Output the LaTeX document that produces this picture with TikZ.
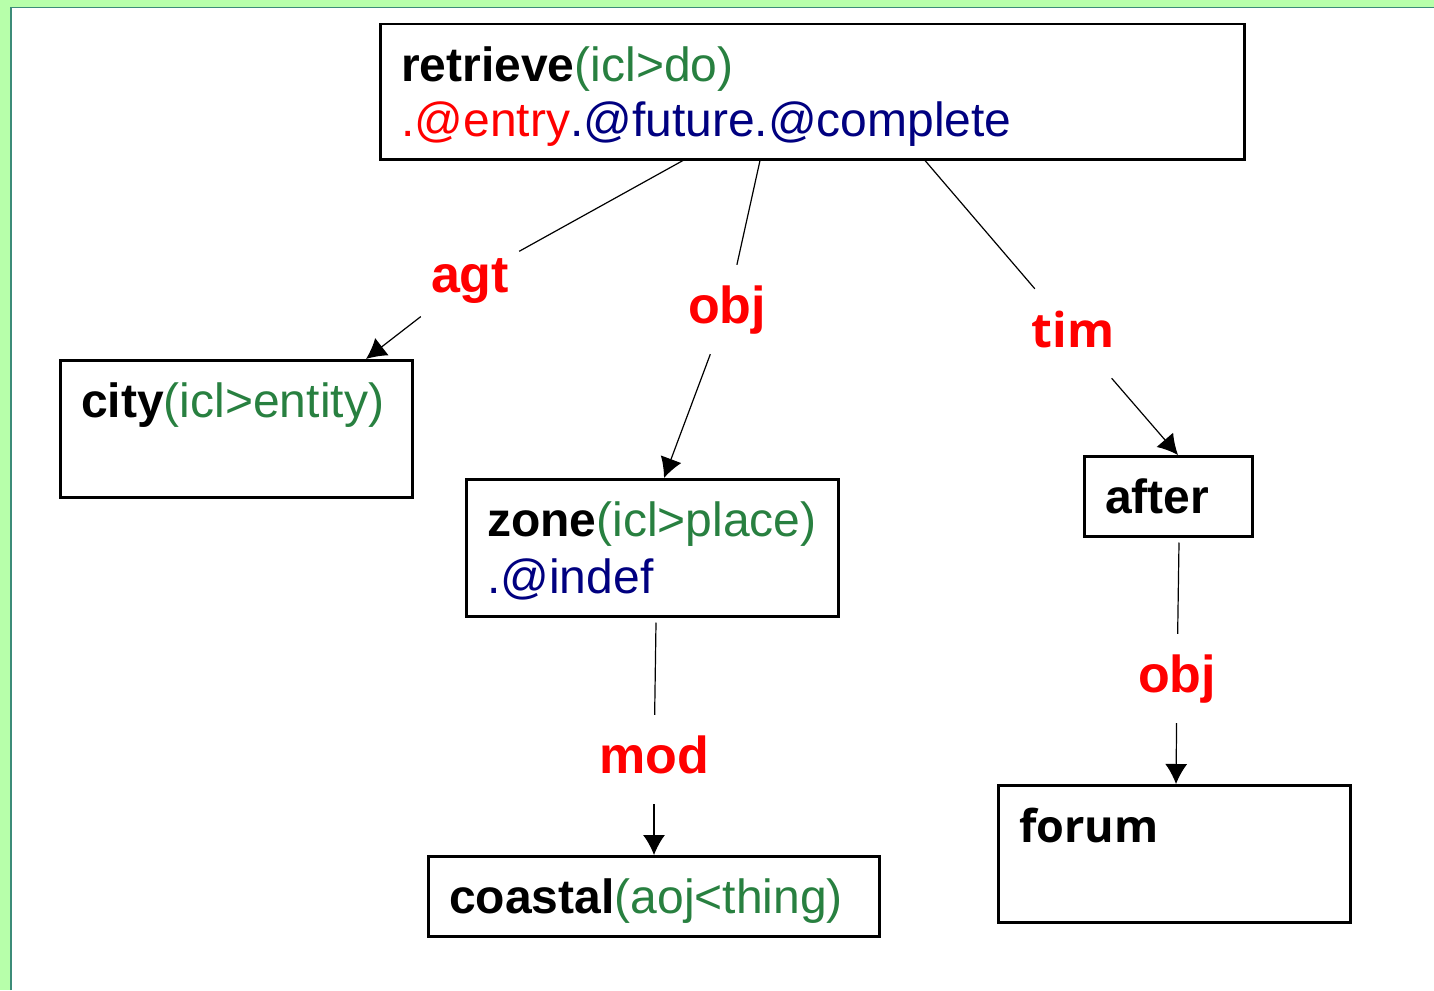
\documentclass[tikz,border=0pt]{standalone}
\usepackage{fontspec}
\setmainfont{Liberation Sans}
\newfontfamily\osans{Open Sans}
\usetikzlibrary{arrows.meta,calc}
\definecolor{icl}{RGB}{40,128,64}
\definecolor{attr}{RGB}{0,0,128}
\definecolor{slide}{RGB}{183,255,170}
\definecolor{rim}{RGB}{60,140,120}
\newcommand\tstrut{\rule{0pt}{57pt}}
\newcommand\bstrut{\rule[-23pt]{0pt}{23pt}}

\begin{document}
\begin{tikzpicture}[x=1pt, y=-1pt,
  unl/.style={draw, line width=2.5pt, rectangle, anchor=north west, align=left, inner xsep=21pt, inner ysep=0pt, font=\fontsize{48}{57}\selectfont},
  rel/.style={text=red, font=\fontsize{52}{60}\selectfont\bfseries, anchor=base, inner xsep=10pt, inner ysep=20pt, text height=38pt, text depth=11pt},
  arc/.style={line width=1.2pt},
  arr/.style={arc, -{Latex[length=20pt,width=22pt]}}]
\useasboundingbox (0,0) rectangle (1434,990);
\fill[slide] (0,0) rectangle (1434,990);
\fill[white] (11,8) rectangle (1434,990);
\draw[rim, line width=1.5pt] (11,990) -- (11,7.5) -- (1434,7.5);

\node[unl, text width=822pt, font=\fontsize{48}{55}\selectfont] (retrieve) at (379,23) {\tstrut\textbf{retrieve}\textcolor{icl}{(icl>do)}\\ \textcolor{red}{.@entry}\textcolor{attr}{.@future.@complete}\bstrut};
\node[unl, text width=310pt] (city) at (59,359) {\tstrut\textbf{city}\textcolor{icl}{(icl>entity)}\\ \bstrut};
\node[unl, text width=330pt] (zone) at (465,478) {\tstrut\textbf{zone}\textcolor{icl}{(icl>place)}\\ \textcolor{attr}{.@indef}\bstrut};
\node[unl, text width=409pt] (coastal) at (427,855) {\tstrut\textbf{coastal}\textcolor{icl}{(aoj<thing)}\bstrut};
\node[unl, text width=126pt] (after) at (1083,455) {\tstrut\textbf{after}\bstrut};
\node[unl, text width=310pt] (forum) at (997,784) {\tstrut{\fontsize{45}{57}\selectfont\osans\bfseries forum}\\ \bstrut};

\node[rel] (agt) at (470,292) {agt};
\node[rel] (obj1) at (727,323) {obj};
\node[rel, font=\fontsize{48}{60}\selectfont\osans\bfseries] (tim) at (1073,347) {tim};
\node[rel] (mod) at (654,773) {mod};
\node[rel] (obj2) at (1177,692) {obj};

\draw[arc] ([xshift=304pt]retrieve.south west) -- (agt);
\draw[arr] (agt) -- ([xshift=307pt]city.north west);
\draw[arc] ([xshift=381pt]retrieve.south west) -- (obj1);
\draw[arr] (obj1) -- ([xshift=199pt]zone.north west);
\draw[arc] ([xshift=546pt]retrieve.south west) -- (tim);
\draw[arr] (tim) -- ([xshift=95pt]after.north west);
\draw[arc] ([xshift=191pt,yshift=-5pt]zone.south west) -- (mod);
\draw[arr] (mod) -- ([xshift=227pt]coastal.north west);
\draw[arc] ([xshift=96pt,yshift=-5pt]after.south west) -- (obj2);
\draw[arr] (obj2) -- ([xshift=179pt]forum.north west);
\end{tikzpicture}
\end{document}
